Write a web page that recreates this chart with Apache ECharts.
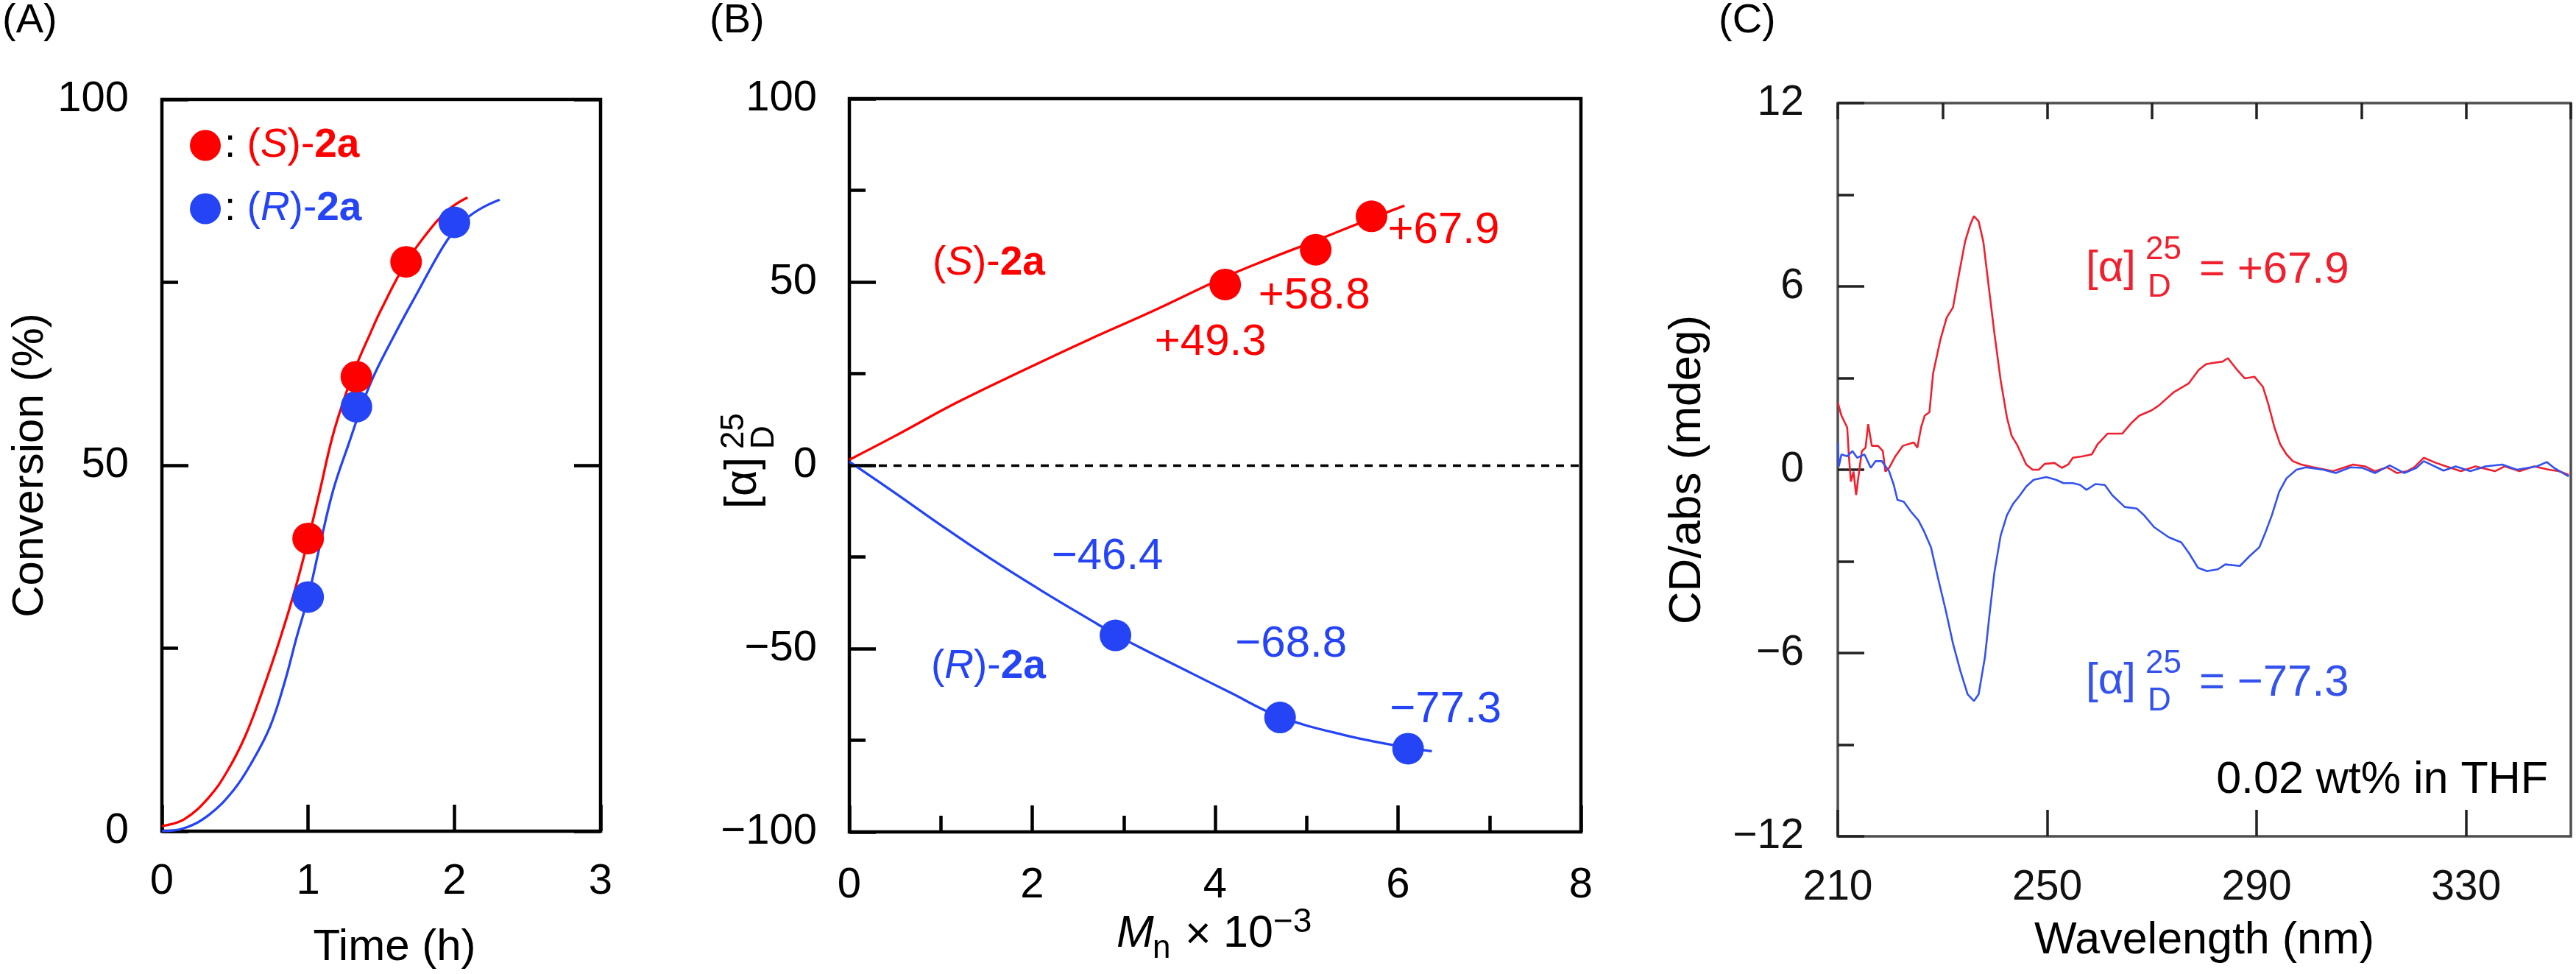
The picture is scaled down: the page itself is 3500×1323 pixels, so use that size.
<!DOCTYPE html>
<html><head><meta charset="utf-8">
<script src="https://cdn.jsdelivr.net/npm/echarts@6/dist/echarts.min.js"></script>
<style>html,body{margin:0;padding:0;background:#fff}#c{width:3500px;height:1323px}</style>
</head><body><div id="c"></div>
<script>
// ---------- Panel A : conversion vs time ----------
const timeS = [1.0, 1.33, 1.67];
const convS = [40.0, 62.1, 77.8];
const timeR = [1.0, 1.33, 2.0];
const convR = [32.0, 58.0, 83.2];
const fitTimeS = [0,0.15,0.32,0.45,0.57,0.69,0.81,0.91,1.0,1.08,1.165,1.25,1.333,1.42,1.50,1.67,1.84,1.97,2.09];
const fitConvS = [0.7,1.6,4.6,8.3,13.0,19.3,26.4,33.0,39.8,46.5,53.8,59.3,63.8,67.8,71.3,77.7,82.4,85.1,86.6];
const fitTimeR = [0,0.15,0.32,0.49,0.62,0.74,0.84,0.92,1.0,1.08,1.17,1.27,1.42,1.585,1.75,1.92,2.0,2.1,2.2,2.31];
const fitConvR = [0,0.4,2.2,5.6,9.6,14.3,20.4,26.4,32.0,39.0,46.5,52.5,60.9,67.6,73.7,79.8,82.0,84.0,85.3,86.3];

// ---------- Panel B : specific rotation vs Mn ----------
const mnS = [4.11, 5.10, 5.71];
const rotS = [49.3, 58.8, 67.9];
const mnR = [2.91, 4.71, 6.11];
const rotR = [-46.4, -68.8, -77.3];
const fitMnS = [0,0.5,1.175,1.894,2.613,3.332,4.104,4.589,5.104,5.704,6.07];
const fitRotS = [1.5,8.0,17.1,25.8,34.2,42.2,51.3,56.3,61.3,67.3,70.8];
const fitMnR = [0,0.503,1.04,1.577,2.114,2.651,2.906,3.187,3.724,4.151,4.70,5.40,6.10,6.37];
const fitRotR = [1.0,-7.6,-17.0,-26.0,-34.4,-42.4,-46.1,-49.8,-56.5,-61.8,-68.5,-73.5,-77.0,-78.0];

// ---------- Panel C : CD spectra ----------
const wlS = [210.0,210.7,211.8,212.1,212.5,213.0,213.5,213.9,214.6,215.3,215.8,216.5,217.7,218.6,219.1,219.8,221.0,222.4,224.5,225.2,225.9,226.6,227.5,228.2,229.6,230.8,232.0,233.1,234.3,235.3,236.0,236.9,237.8,238.8,239.9,241.1,242.3,243.2,244.2,245.1,246.0,247.2,248.4,249.5,251.4,252.8,254.0,254.9,256.8,258.5,259.6,261.5,264.3,266.2,267.6,269.9,271.3,274.2,277.0,278.9,280.3,281.2,283.5,284.5,286.3,287.7,289.6,291.2,292.2,293.4,294.5,295.7,296.9,298.5,300.9,304.6,308.4,310.7,312.6,314.9,316.8,318.7,320.1,321.9,324.3,326.2,329.0,331.8,335.5,337.4,340.2,343.0,345.8,347.7,349.6];
const cdS = [2.2,1.77,1.38,0.5,-0.39,-0.06,-0.83,-0.28,0.61,0.72,1.49,0.78,0.78,0.61,-0.06,0.06,0.44,0.78,0.89,0.72,1.38,1.77,1.88,3.15,4.26,4.98,5.31,6.36,7.46,8.02,8.30,8.13,7.46,6.03,4.48,2.93,1.71,1.11,0.83,0.5,0.17,0.0,0.0,0.19,0.22,0.06,0.17,0.39,0.44,0.5,0.83,1.18,1.18,1.55,1.77,1.94,2.10,2.54,2.82,3.26,3.45,3.48,3.54,3.65,3.26,2.99,3.04,2.71,2.16,1.38,0.83,0.5,0.28,0.17,0.08,-0.05,0.17,0.11,-0.05,0.08,-0.11,-0.05,0.08,0.39,0.22,0.11,-0.05,0.11,-0.05,0.11,-0.05,0.11,0.0,-0.05,-0.17];
const wlR = [210.0,210.2,210.7,211.8,212.8,213.7,215.1,216.3,217.2,218.4,219.8,220.7,221.4,222.6,224.0,225.4,226.4,227.8,229.2,230.6,232.0,233.4,234.8,236.0,236.9,238.1,239.0,239.9,241.1,242.3,243.5,244.6,246.0,247.4,249.8,251.7,253.1,254.9,256.3,257.5,259.2,261.0,262.4,264.8,267.1,268.5,270.4,273.2,275.6,277.0,278.8,280.5,282.6,284.0,286.8,288.7,290.5,291.7,292.9,294.3,295.7,297.6,299.4,302.7,305.1,307.9,310.2,312.6,315.4,318.2,320.5,321.9,325.7,328.0,330.8,333.7,336.9,339.7,343.5,345.4,346.8,349.6];
const cdR = [0.88,0.11,0.5,0.44,0.61,0.39,0.5,0.06,0.28,0.28,-0.05,-0.5,-0.99,-1.05,-1.38,-1.66,-1.99,-2.54,-3.59,-4.59,-5.69,-6.58,-7.35,-7.57,-7.35,-6.14,-4.70,-3.37,-2.16,-1.49,-1.11,-0.88,-0.55,-0.33,-0.24,-0.33,-0.44,-0.44,-0.5,-0.66,-0.47,-0.5,-0.83,-1.22,-1.27,-1.49,-1.88,-2.21,-2.38,-2.71,-3.21,-3.32,-3.26,-3.10,-3.15,-2.82,-2.54,-2.04,-1.49,-0.72,-0.28,0.0,0.08,0.0,-0.11,0.08,0.06,-0.11,0.14,-0.11,0.06,0.28,-0.03,0.11,-0.05,0.11,0.17,0.0,0.11,0.25,0.06,-0.22];

// ---------- tick values ----------
const ticksAx = [0, 1, 2, 3];
const ticksAy = [0, 50, 100];
const ticksBx = [0, 2, 4, 6, 8];
const ticksBy = [-100, -50, 0, 50, 100];
const ticksCx = [210, 250, 290, 330];
const maxCx = 350;
const ticksCy = [-12, -6, 0, 6, 12];

// ---------- layout / style (not data) ----------
const FONT = '"Liberation Sans", Arial, Helvetica, sans-serif';
const RED = '#ff0000', BLUE = '#2444f5', CRED = '#f0202e', CBLUE = '#3352ee';
const labelOffS = [[-20, 79], [-2, 63], [98, 20]];
const labelOffR = [[-11, -107], [15, -99], [51, -53]];

const zip = (a, b) => a.map((v, i) => [v, b[i]]);
const minus = v => String(v).replace('-', '\u2212');
const span = t => ({ min: t[0], max: t[t.length - 1], interval: t[1] - t[0] });
const noLine = { show: false, onZero: false };

const chart = echarts.init(document.getElementById('c'), null, { renderer: 'canvas' });

const tickStyle = (len, w, c) => ({ show: true, inside: true, length: len, lineStyle: { color: c, width: w } });
const minorStyle = (len, w, c) => ({ show: true, splitNumber: 2, length: len, lineStyle: { color: c, width: w } });
const labelStyle = (m, size, c, fmt) => ({ margin: m, fontSize: size, color: c, fontFamily: FONT, formatter: fmt });

function txt(x, y, text, size, color, extra) {
  return {
    type: 'text', x: x, y: y, silent: true,
    style: Object.assign({
      text: text, fill: color, fontSize: size, fontFamily: FONT,
      textAlign: 'left', align: 'left', textVerticalAlign: 'middle', verticalAlign: 'middle'
    }, extra || {})
  };
}

const option = {
  animation: false,
  backgroundColor: '#ffffff',
  textStyle: { fontFamily: FONT },
  grid: [
    { left: 220, top: 135, width: 596, height: 994, show: true, borderColor: '#000', borderWidth: 4.5, backgroundColor: 'transparent' },
    { left: 1154, top: 134, width: 994, height: 996, show: true, borderColor: '#000', borderWidth: 4.5, backgroundColor: 'transparent' },
    { left: 2497, top: 140, width: 996, height: 996, show: true, borderColor: '#4d4f4f', borderWidth: 3.5, backgroundColor: 'transparent' }
  ],
  xAxis: [
    Object.assign({ type: 'value', gridIndex: 0, axisLine: noLine, splitLine: { show: false },
      axisTick: tickStyle(36, 4.5, '#000'),
      axisLabel: labelStyle(40, 58, '#000'),
      name: 'Time (h)', nameLocation: 'middle', nameGap: 128,
      nameTextStyle: { fontSize: 60, color: '#000', fontFamily: FONT, padding: [0, 0, 0, 36] } }, span(ticksAx)),
    Object.assign({ type: 'value', gridIndex: 1, axisLine: noLine, splitLine: { show: false },
      axisTick: tickStyle(36, 4.5, '#000'), minorTick: minorStyle(22, 4.5, '#000'),
      axisLabel: labelStyle(44, 58, '#000') }, span(ticksBx)),
    { type: 'value', gridIndex: 2, min: ticksCx[0], max: maxCx, interval: ticksCx[1] - ticksCx[0],
      axisLine: noLine, splitLine: { show: false },
      axisTick: tickStyle(36, 3.5, '#222'),
      axisLabel: Object.assign(labelStyle(42, 57, '#111'), { showMaxLabel: false }),
      name: 'Wavelength (nm)', nameLocation: 'middle', nameGap: 112,
      nameTextStyle: { fontSize: 61, color: '#000', fontFamily: FONT } },
    { type: 'value', gridIndex: 2, min: ticksCx[0], max: maxCx, interval: (ticksCx[1] - ticksCx[0]) / 2,
      axisLine: noLine, splitLine: { show: false }, axisLabel: { show: false },
      axisTick: tickStyle(22, 3.5, '#222') }
  ],
  yAxis: [
    Object.assign({ type: 'value', gridIndex: 0, axisLine: noLine, splitLine: { show: false },
      axisTick: tickStyle(36, 4.5, '#000'), minorTick: minorStyle(22, 4.5, '#000'),
      axisLabel: labelStyle(45, 58, '#000'),
      name: 'Conversion (%)', nameLocation: 'middle', nameGap: 149,
      nameTextStyle: { fontSize: 60, color: '#000', fontFamily: FONT } }, span(ticksAy)),
    Object.assign({ type: 'value', gridIndex: 0, position: 'right', axisLine: noLine, splitLine: { show: false },
      axisTick: tickStyle(36, 4.5, '#000'), axisLabel: { show: false } }, span(ticksAy)),
    Object.assign({ type: 'value', gridIndex: 1, axisLine: noLine, splitLine: { show: false },
      axisTick: tickStyle(36, 4.5, '#000'), minorTick: minorStyle(22, 4.5, '#000'),
      axisLabel: labelStyle(44, 58, '#000', v => minus(v)) }, span(ticksBy)),
    Object.assign({ type: 'value', gridIndex: 2, axisLine: noLine, splitLine: { show: false },
      axisTick: tickStyle(36, 3.5, '#222'), minorTick: minorStyle(22, 3.5, '#222'),
      axisLabel: labelStyle(46, 57, '#111', v => minus(v)),
      name: 'CD/abs (mdeg)', nameLocation: 'middle', nameGap: 173,
      nameTextStyle: { fontSize: 62, color: '#000', fontFamily: FONT } }, span(ticksCy))
  ],
  legend: {
    data: ['S', 'R'], orient: 'vertical', left: 253, top: 165,
    itemWidth: 42, itemHeight: 42, itemGap: 31, icon: 'circle', selectedMode: false,
    formatter: n => n === 'S' ? '{k|:} {s|(}{si|S}{s|)-}{sb|2a}' : '{k|:} {r|(}{ri|R}{r|)-}{rb|2a}',
    textStyle: {
      fontSize: 55, fontFamily: FONT,
      rich: {
        k: { color: '#000', fontSize: 55, fontFamily: FONT },
        s: { color: RED, fontSize: 55, fontFamily: FONT },
        si: { color: RED, fontSize: 55, fontStyle: 'italic', fontFamily: FONT },
        sb: { color: RED, fontSize: 55, fontWeight: 'bold', fontFamily: FONT },
        r: { color: BLUE, fontSize: 55, fontFamily: FONT },
        ri: { color: BLUE, fontSize: 55, fontStyle: 'italic', fontFamily: FONT },
        rb: { color: BLUE, fontSize: 55, fontWeight: 'bold', fontFamily: FONT }
      }
    }
  },
  series: [
    // Panel A
    { name: 'fitS', type: 'line', xAxisIndex: 0, yAxisIndex: 0, data: zip(fitTimeS, fitConvS), smooth: 0.4,
      showSymbol: false, symbol: 'none', lineStyle: { color: RED, width: 3.3 }, z: 2, silent: true },
    { name: 'fitR', type: 'line', xAxisIndex: 0, yAxisIndex: 0, data: zip(fitTimeR, fitConvR), smooth: 0.4,
      showSymbol: false, symbol: 'none', lineStyle: { color: BLUE, width: 3.3 }, z: 2, silent: true },
    { name: 'S', type: 'scatter', xAxisIndex: 0, yAxisIndex: 0, data: zip(timeS, convS), symbolSize: 43,
      itemStyle: { color: RED, opacity: 1 }, z: 4 },
    { name: 'R', type: 'scatter', xAxisIndex: 0, yAxisIndex: 0, data: zip(timeR, convR), symbolSize: 43,
      itemStyle: { color: BLUE, opacity: 1 }, z: 3 },
    // Panel B
    { name: 'fitBS', type: 'line', xAxisIndex: 1, yAxisIndex: 2, data: zip(fitMnS, fitRotS), smooth: 0.4,
      showSymbol: false, symbol: 'none', lineStyle: { color: RED, width: 3.3 }, z: 2, silent: true },
    { name: 'fitBR', type: 'line', xAxisIndex: 1, yAxisIndex: 2, data: zip(fitMnR, fitRotR), smooth: 0.4,
      showSymbol: false, symbol: 'none', lineStyle: { color: BLUE, width: 3.3 }, z: 2, silent: true,
      markLine: { silent: true, symbol: ['none', 'none'], label: { show: false },
        lineStyle: { color: '#000', width: 3.3, type: [11, 9] }, data: [{ yAxis: 0 }] } },
    { name: 'BS', type: 'scatter', xAxisIndex: 1, yAxisIndex: 2, symbolSize: 43,
      data: zip(mnS, rotS).map((v, i) => ({ value: v, label: { offset: labelOffS[i] } })),
      itemStyle: { color: RED, opacity: 1 }, z: 4,
      label: { show: true, position: 'inside', color: RED, fontSize: 60, fontFamily: FONT,
        formatter: p => '+' + p.value[1].toFixed(1) } },
    { name: 'BR', type: 'scatter', xAxisIndex: 1, yAxisIndex: 2, symbolSize: 43,
      data: zip(mnR, rotR).map((v, i) => ({ value: v, label: { offset: labelOffR[i] } })),
      itemStyle: { color: BLUE, opacity: 1 }, z: 4,
      label: { show: true, position: 'inside', color: BLUE, fontSize: 60, fontFamily: FONT,
        formatter: p => '\u2212' + Math.abs(p.value[1]).toFixed(1) } },
    // Panel C
    { name: 'cdS', type: 'line', xAxisIndex: 2, yAxisIndex: 3, data: zip(wlS, cdS), showSymbol: false, symbol: 'none',
      lineStyle: { color: CRED, width: 2.6 }, z: 2, silent: true },
    { name: 'cdR', type: 'line', xAxisIndex: 2, yAxisIndex: 3, data: zip(wlR, cdR), showSymbol: false, symbol: 'none',
      lineStyle: { color: CBLUE, width: 2.6 }, z: 3, silent: true }
  ],
  graphic: [
    txt(3, 29, '(A)', 56, '#000'),
    txt(964, 29, '(B)', 56, '#000'),
    txt(2335, 29, '(C)', 56, '#000'),
    // Panel B annotations
    txt(1267, 358, '({i|S})-{b|2a}', 55, RED, { rich: {
      i: { fontStyle: 'italic', fontSize: 55, fill: RED, fontFamily: FONT },
      b: { fontWeight: 'bold', fontSize: 55, fill: RED, fontFamily: FONT } } }),
    txt(1265, 906, '({i|R})-{b|2a}', 55, BLUE, { rich: {
      i: { fontStyle: 'italic', fontSize: 55, fill: BLUE, fontFamily: FONT },
      b: { fontWeight: 'bold', fontSize: 55, fill: BLUE, fontFamily: FONT } } }),
    // Panel B y-axis title (rotated)
    { type: 'group', x: 1010, y: 656, rotation: Math.PI / 2, children: [
      txt(0, 0, '[\u03b1]', 62, '#000', { textAlign: 'center', align: 'center' }),
      txt(46, -12, '25', 44, '#000'),
      txt(46, 29, 'D', 44, '#000')
    ] },
    // Panel B x-axis title
    txt(1517, 1269, 'M', 61, '#000', { fontStyle: 'italic' }),
    txt(1566, 1289, 'n', 44, '#000'),
    txt(1610, 1271, '\u00d7', 61, '#000'),
    txt(1662, 1269, '10', 61, '#000'),
    txt(1730, 1253, '\u22123', 46, '#000'),
    // Panel C annotations
    txt(2834, 365, '[\u03b1]', 60, CRED),
    txt(2915, 340, '25', 44, CRED),
    txt(2918, 391, 'D', 44, CRED),
    txt(2988, 367, '= +67.9', 60, CRED),
    txt(2834, 925, '[\u03b1]', 60, CBLUE),
    txt(2915, 902, '25', 44, CBLUE),
    txt(2918, 953, 'D', 44, CBLUE),
    txt(2988, 928, '= \u221277.3', 60, CBLUE),
    txt(3462, 1060, '0.02 wt% in THF', 61, '#000', { textAlign: 'right', align: 'right' })
  ]
};
chart.setOption(option);
</script>
</body></html>
